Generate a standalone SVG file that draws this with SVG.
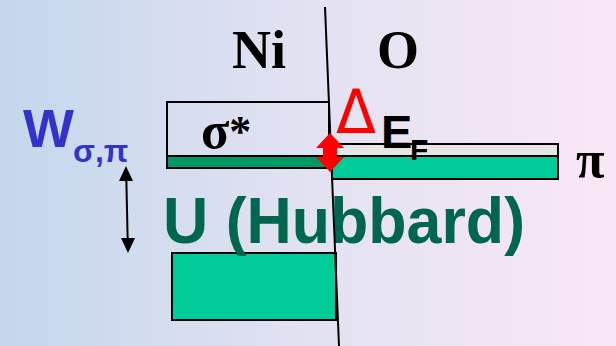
<svg xmlns="http://www.w3.org/2000/svg" width="616" height="346" viewBox="0 0 616 346">
<defs>
<linearGradient id="bg" x1="0" y1="0" x2="1" y2="0">
<stop offset="0" stop-color="#c4d7ec"/>
<stop offset="0.5" stop-color="#e2e2f2"/>
<stop offset="1" stop-color="#fae7f5"/>
</linearGradient>
<style>
.serif{font-family:"Liberation Serif","Times New Roman",serif;font-weight:bold;fill:#000}
.sans{font-family:"Liberation Sans",Arial,sans-serif;font-weight:bold}
.delta{font-family:"DejaVu Sans","Liberation Sans",sans-serif;font-weight:normal;fill:#ff0000}
.box{stroke:#000;stroke-width:2}
</style>
</defs>
<rect width="616" height="346" fill="url(#bg)"/>
<g id="ni-label"><text class="serif" x="232" y="68" font-size="54">Ni</text></g>
<g id="o-label"><text class="serif" x="377" y="68" font-size="54">O</text></g>
<g id="sigma-star"><rect class="box" x="167" y="102" width="162" height="54" fill="none"/>
<text class="serif" x="201" y="148" font-size="52">σ<tspan font-size="44" dy="-2">*</tspan></text></g>
<g id="ni-band"><rect class="box" x="167" y="156" width="163" height="12" fill="#009966"/></g>
<g id="o-empty"><rect class="box" x="332" y="144" width="226" height="12" fill="#e6e6e6"/></g>
<g id="o-band"><rect class="box" x="332" y="156" width="226" height="23" fill="#00cc99"/></g>
<g id="lower-band"><rect class="box" x="172" y="253" width="164" height="67" fill="#00cc99"/></g>
<g id="pi-label"><text class="serif" x="576" y="177" font-size="52">π</text></g>
<g id="w-label"><text class="sans" x="23" y="147" font-size="54" fill="#3333cc">W</text>
<text class="sans" x="73" y="162" font-size="32" fill="#3333cc">σ,π</text></g>
<g id="u-label"><text class="sans" x="163" y="243" font-size="65" fill="#00664d" textLength="362" lengthAdjust="spacingAndGlyphs">U (Hubbard)</text></g>
<line x1="325" y1="7" x2="339" y2="346" stroke="#000" stroke-width="2"/>
<g id="delta-ef"><text class="delta" x="336" y="133" font-size="60" textLength="40" lengthAdjust="spacingAndGlyphs">Δ</text>
<text class="sans" x="381" y="148" font-size="47" fill="#000">E</text>
<text class="sans" x="410" y="160" font-size="30" fill="#000">F</text></g>
<g id="connectors">
<polygon points="330,133 344,148 337,148 337,157 344,157 330,172 316,157 323,157 323,148 316,148" fill="#ff0000"/>
<line x1="126.3" y1="178" x2="127.7" y2="241" stroke="#000" stroke-width="2"/>
<polygon points="126,166 133,181 119,181" fill="#000"/>
<polygon points="128,253 135,238 121,238" fill="#000"/>
</g>
</svg>
